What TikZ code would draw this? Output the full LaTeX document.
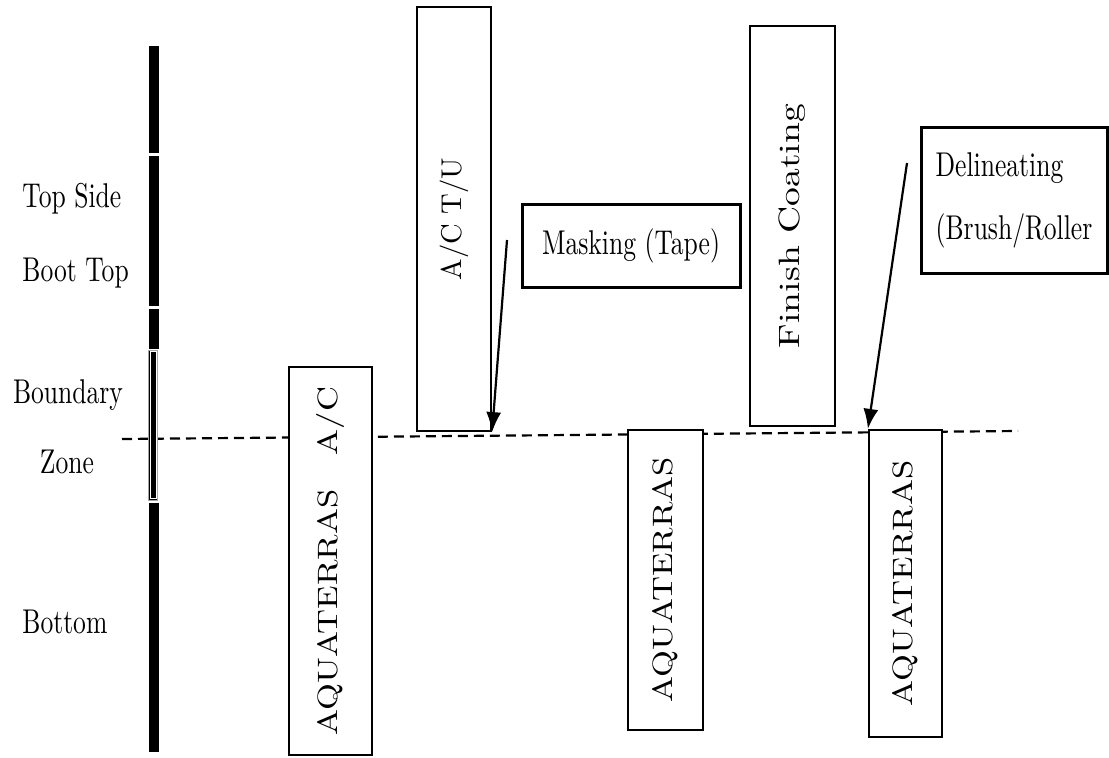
\documentclass[tikz,border=0pt]{standalone}
\usepackage{tikz}
\usepackage{graphicx}
\usetikzlibrary{arrows.meta}

\newcommand{\zonetext}[1]{\scalebox{1.28}[1.72]{#1}}
\newcommand{\vtext}[3]{\rotatebox{90}{\scalebox{#1}[#2]{#3}}}

\begin{document}
\begin{tikzpicture}[x=0.5pt,y=0.5pt,yscale=-1,xscale=1,
  stepbox/.style={draw, fill=white, line width=1.1pt, inner sep=0pt},
  notebox/.style={draw, fill=white, line width=1.5pt, inner sep=0pt},
  zonelabel/.style={inner sep=0pt},
  pointer/.style={line width=1.1pt, -{Latex[length=10pt,width=7.5pt]}},
  waterline/.style={line width=1.1pt, dash pattern=on 5pt off 3pt}]
\useasboundingbox (0,0) rectangle (1109,757);

%Waterline
\coordinate (wlLeft) at (122,439);
\coordinate (wlRight) at (1018,431);
\draw [waterline] (wlLeft) -- (wlRight);

%Hull bar
\fill (149,46) rectangle (159,153);
\fill (149,156) rectangle (159,306);
\fill (149,309) rectangle (159,349);
\filldraw [draw=gray!70, line width=0.3pt] (148.5,350) rectangle (157.5,500);
\draw [white, line width=0.5pt] (150,351.5) rectangle (156,498.5);
\fill (149,503) rectangle (159,752);

% Text Node
\node [zonelabel, anchor=base west] (lblTopSide) at (22,207) {\zonetext{Top Side}};
% Text Node
\node [zonelabel, anchor=base west] (lblBootTop) at (22,281) {\zonetext{Boot Top}};
% Text Node
\node [zonelabel, anchor=base] (lblBoundary) at (68,403) {\zonetext{Boundary}};
% Text Node
\node [zonelabel, anchor=base] (lblZone) at (67,473) {\zonetext{Zone}};
% Text Node
\node [zonelabel, anchor=base west] (lblBottom) at (22,633) {\zonetext{Bottom}};

%Process boxes
\node [stepbox, minimum width=41.5pt, minimum height=194pt] (aquaAC) at (330.5,561) {\vtext{1.73}{1.4}{AQUATERRAS\quad A/C}};
\node [stepbox, minimum width=37pt, minimum height=212pt] (acTU) at (454,219) {\vtext{1.43}{1.43}{A/C T/U}};
\node [stepbox, minimum width=37.5pt, minimum height=150pt] (aquaMid) at (665.5,580) {\vtext{1.73}{1.4}{AQUATERRAS}};
\node [stepbox, minimum width=42.5pt, minimum height=200pt] (finish) at (792.5,226) {\vtext{1.88}{1.47}{Finish Coating}};
\node [stepbox, minimum width=36.5pt, minimum height=153.5pt] (aquaRight) at (905.5,583.5) {\vtext{1.73}{1.4}{AQUATERRAS}};

%Notes
\node [notebox, minimum width=109pt, minimum height=41.5pt] (masking) at (631,245.5) {\zonetext{Masking (Tape)}};
\node [notebox, minimum width=93pt, minimum height=73pt, align=left, font=\fontsize{10}{31.5}\selectfont] (delin) at (1014,200) {\zonetext{Delineating}\\\zonetext{(Brush/Roller}};

%Pointers
\coordinate (maskTail) at (507,240);
\draw [pointer] (maskTail) -- (acTU.south east);
\coordinate (delinTail) at (907,163);
\draw [pointer] (delinTail) -- (aquaRight.north west);

\end{tikzpicture}
\end{document}
